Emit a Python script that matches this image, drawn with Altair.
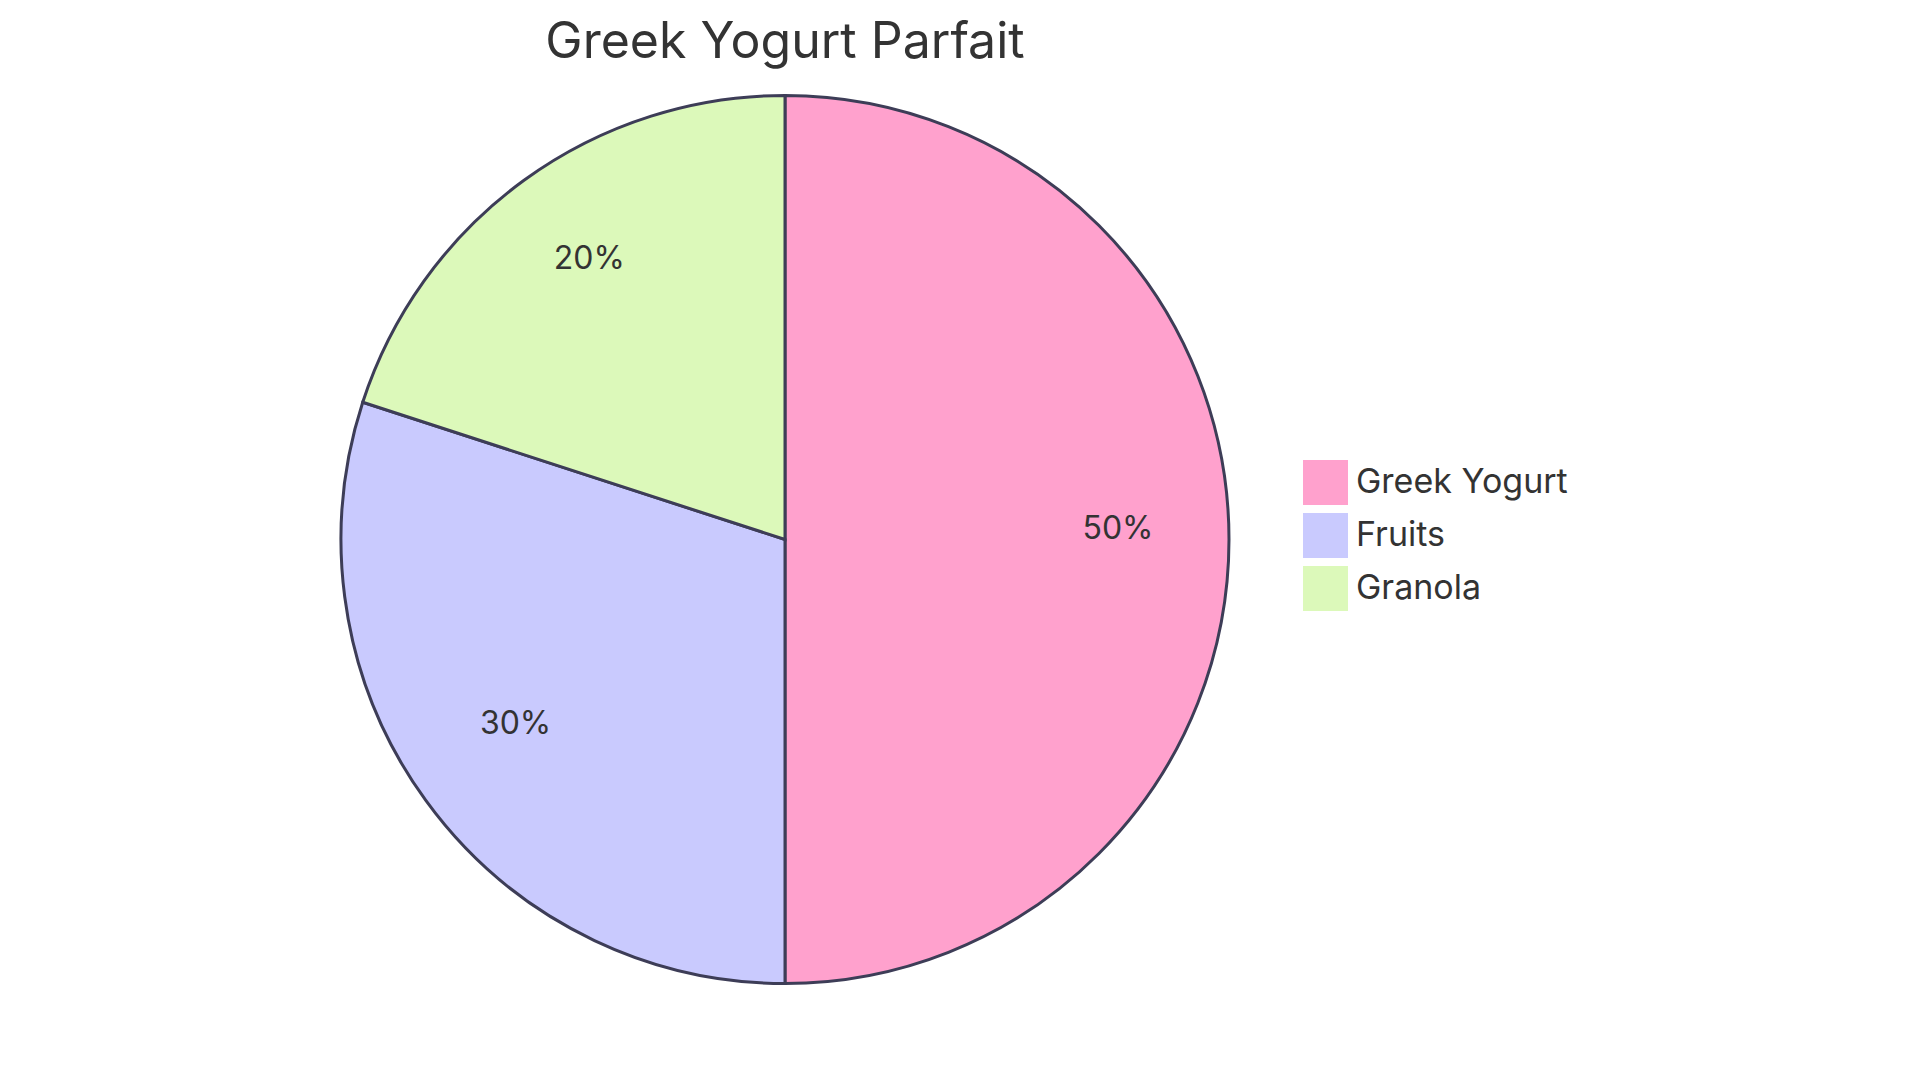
import altair as alt
import pandas as pd

# 파이 차트 데이터
categories = ["Greek Yogurt", "Fruits", "Granola"]
shares = [50, 30, 20]
colors = ["#FFA1CD", "#C9CAFE", "#DCF9BA"]

df = pd.DataFrame({
    "item": categories,
    "share": shares,
    "idx": list(range(len(categories))),
    "label": [f"{v}%" for v in shares],
})

R = 444
FONT = "Inter"

base = alt.Chart(df).encode(
    theta=alt.Theta("share:Q", stack=True),
    order=alt.Order("idx:Q"),
)

pie = base.mark_arc(outerRadius=R, stroke="#3D3D57", strokeWidth=3).encode(
    color=alt.Color(
        "item:N",
        sort=categories,
        scale=alt.Scale(domain=categories, range=colors),
        legend=alt.Legend(
            title=None,
            orient="none",
            legendX=1295,
            legendY=390,
            symbolType="square",
            symbolSize=2025,
            symbolStrokeWidth=0,
            symbolOpacity=1,
            labelFont=FONT,
            labelFontSize=34,
            labelColor="#333333",
            labelOffset=8,
            rowPadding=8,
            padding=0,
            labelLimit=400,
        ),
    )
)

# 퍼센트 라벨
labels = base.mark_text(radius=R * 0.75, dy=-11, font=FONT, fontSize=32, color="#333333").encode(
    text="label:N"
)

chart = alt.layer(pie, labels).properties(
    width=1554,
    height=939,
    padding={"left": 0, "top": 10, "right": 0, "bottom": 0},
    title=alt.TitleParams(
        "Greek Yogurt Parfait",
        font=FONT,
        fontSize=50,
        fontWeight="normal",
        color="#333333",
        anchor="middle",
        offset=2,
    ),
).configure_view(stroke=None)

chart.save("out.html", embed_options={"renderer": "svg", "actions": False})
